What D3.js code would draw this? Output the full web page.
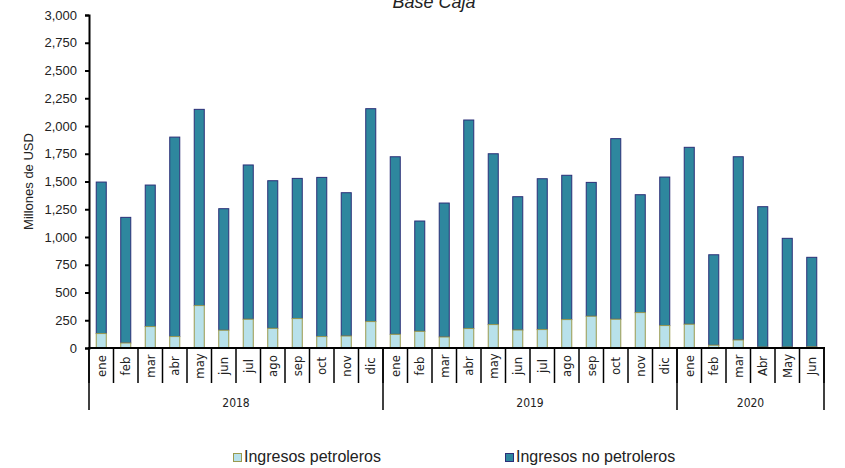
<!DOCTYPE html>
<html>
<head>
<meta charset="utf-8">
<script src="https://cdn.jsdelivr.net/npm/d3@7"></script>
<style>
  body { margin: 0; background: #fff; }
  svg { display: block; }
</style>
</head>
<body>
<div id="chart"></div>
<script>
// months per bar, year groups
var months = ["ene","feb","mar","abr","may","jun","jul","ago","sep","oct","nov","dic",
              "ene","feb","mar","abr","may","jun","jul","ago","sep","oct","nov","dic",
              "ene","feb","mar","Abr","May","Jun"];
var years = ["2018", "2019", "2020"];
var yearCounts = [12, 12, 6];

// Millones de USD
var petroleros = [130, 45, 193, 103, 382, 160, 259, 177, 265, 103, 108, 238,
                  123, 150, 99, 175, 211, 162, 166, 256, 286, 259, 319, 202,
                  214, 25, 72, 8, 8, 10];
var noPetroleros = [1365, 1132, 1275, 1797, 1768, 1095, 1390, 1330, 1263, 1434, 1291, 1918,
                    1600, 994, 1207, 1879, 1539, 1201, 1359, 1300, 1206, 1627, 1062, 1338,
                    1594, 815, 1651, 1265, 980, 807];

var yTicks = [0, 250, 500, 750, 1000, 1250, 1500, 1750, 2000, 2250, 2500, 2750, 3000];

var width = 845, height = 468;
var plotLeft = 89, plotRight = 824, plotTop = 15, plotBottom = 348;

var svg = d3.select("#chart").append("svg")
    .attr("width", width)
    .attr("height", height)
    .style("font-family", "'Liberation Sans', Arial, sans-serif");

var x = d3.scaleBand()
    .domain(d3.range(months.length))
    .range([plotLeft, plotRight])
    .paddingInner(0.55)
    .paddingOuter(0.275);

var y = d3.scaleLinear().domain([0, 3000]).range([plotBottom, plotTop]);

// title (cut at the top as in the source)
svg.append("text")
    .attr("x", 434).attr("y", 8)
    .attr("text-anchor", "middle")
    .style("font-style", "italic")
    .style("font-size", "18px")
    .attr("fill", "#222")
    .text("Base Caja");

// bars
var data = months.map(function(m, i) {
    return {i: i, p: petroleros[i], n: noPetroleros[i]};
});

var g = svg.append("g");
g.selectAll("rect.np").data(data).enter().append("rect")
    .attr("class", "np")
    .attr("x", function(d) { return x(d.i) + 0.5; })
    .attr("y", function(d) { return y(d.p + d.n); })
    .attr("width", x.bandwidth() - 1)
    .attr("height", function(d) { return y(d.p) - y(d.p + d.n); })
    .attr("fill", "#2e879e")
    .attr("stroke", "#2b2f78")
    .attr("stroke-width", 1);

g.selectAll("rect.p").data(data).enter().append("rect")
    .attr("class", "p")
    .attr("x", function(d) { return x(d.i) + 0.5; })
    .attr("y", function(d) { return y(d.p); })
    .attr("width", x.bandwidth() - 1)
    .attr("height", function(d) { return y(0) - y(d.p); })
    .attr("fill", "#b8e1ea")
    .attr("stroke", "#9a9a4e")
    .attr("stroke-width", 1);

// y axis
var yAxis = svg.append("g")
    .attr("transform", "translate(" + plotLeft + ",0)")
    .call(d3.axisLeft(y).tickValues(yTicks).tickSize(4).tickPadding(8)
        .tickFormat(d3.format(",")));
yAxis.select(".domain").attr("stroke", "#000").attr("stroke-width", 2);
yAxis.selectAll(".tick line").attr("stroke", "#000").attr("stroke-width", 2);
yAxis.selectAll("text").style("font-size", "13px").attr("fill", "#222");

svg.append("text")
    .attr("transform", "translate(33," + ((plotTop + plotBottom) / 2) + ") rotate(-90)")
    .attr("text-anchor", "middle")
    .style("font-size", "13px")
    .attr("fill", "#222")
    .text("Millones de USD");

// x axis: category row
var step = x.step();
svg.append("line")
    .attr("x1", plotLeft - 1).attr("x2", plotRight + 1)
    .attr("y1", plotBottom).attr("y2", plotBottom)
    .attr("stroke", "#000").attr("stroke-width", 2);

var monthG = svg.append("g");
d3.range(months.length + 1).forEach(function(k) {
    monthG.append("line")
        .attr("x1", plotLeft + k * step).attr("x2", plotLeft + k * step)
        .attr("y1", plotBottom).attr("y2", 383)
        .attr("stroke", "#000").attr("stroke-width", 1.5);
});
monthG.selectAll("text").data(months).enter().append("text")
    .attr("transform", function(d, i) {
        return "translate(" + (x(i) + x.bandwidth() / 2 + 4.5) + ",366) rotate(-90)";
    })
    .attr("text-anchor", "middle")
    .style("font-family", "'Liberation Sans Narrow', 'DejaVu Sans Condensed', sans-serif")
    .style("font-size", "13px")
    .attr("fill", "#222")
    .text(function(d) { return d; });

// year row
var start = 0;
years.forEach(function(yr, j) {
    var x0 = plotLeft + start * step;
    var x1 = plotLeft + (start + yearCounts[j]) * step;
    svg.append("line")
        .attr("x1", x0).attr("x2", x0)
        .attr("y1", plotBottom).attr("y2", 410)
        .attr("stroke", "#000").attr("stroke-width", 1.5);
    svg.append("text")
        .attr("x", (x0 + x1) / 2).attr("y", 407)
        .attr("text-anchor", "middle")
        .style("font-family", "'Liberation Sans Narrow', 'DejaVu Sans Condensed', sans-serif")
        .style("font-size", "12px")
        .attr("fill", "#222")
        .text(yr);
    start += yearCounts[j];
});
svg.append("line")
    .attr("x1", plotRight).attr("x2", plotRight)
    .attr("y1", plotBottom).attr("y2", 410)
    .attr("stroke", "#000").attr("stroke-width", 1.5);

// legend
var legend = [
    {label: "Ingresos petroleros", fill: "#b8e1ea", stroke: "#9a9a4e", x: 233},
    {label: "Ingresos no petroleros", fill: "#2e879e", stroke: "#2b2f78", x: 505}
];
var lg = svg.selectAll("g.legend").data(legend).enter().append("g")
    .attr("class", "legend")
    .attr("transform", function(d) { return "translate(" + d.x + ",453)"; });
lg.append("rect")
    .attr("x", 0.5).attr("y", 0.5)
    .attr("width", 8).attr("height", 8)
    .attr("fill", function(d) { return d.fill; })
    .attr("stroke", function(d) { return d.stroke; });
lg.append("text")
    .attr("x", 11).attr("y", 9)
    .style("font-size", "16px")
    .attr("fill", "#222")
    .text(function(d) { return d.label; });
</script>
</body>
</html>
